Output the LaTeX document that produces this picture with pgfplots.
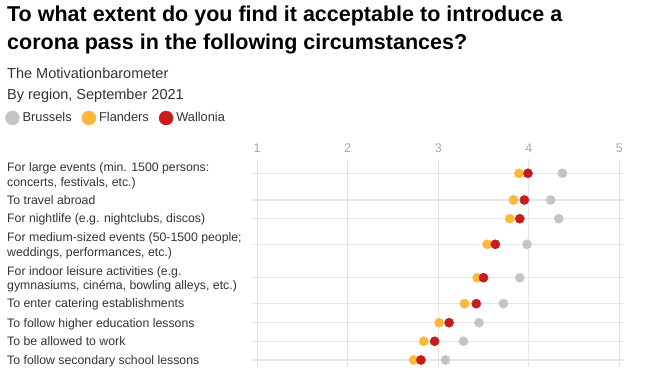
\documentclass[border=0pt]{standalone}
\usepackage{pgfplots}
\pgfplotsset{compat=1.18}
\usepackage{fontspec}
\setmainfont{Liberation Sans}
\definecolor{cB}{HTML}{C4C4C4}
\definecolor{cF}{HTML}{FDB83A}
\definecolor{cW}{HTML}{C81B1E}
\definecolor{txt}{HTML}{333333}
\definecolor{tick}{HTML}{A6A6A6}
\definecolor{gridc}{HTML}{E6E6E6}
\pgfplotstableread{
y      B     F     W
-173.3 4.37 3.89 3.99
-200.0 4.24 3.83 3.95
-218.7 4.33 3.79 3.90
-244.3 3.98 3.54 3.63
-277.7 3.90 3.43 3.50
-303.7 3.72 3.29 3.42
-322.7 3.45 3.01 3.12
-341.3 3.28 2.84 2.96
-360.0 3.08 2.73 2.81
}\data
\begin{document}
\begin{tikzpicture}[x=1pt,y=1pt]
\useasboundingbox (0,0) rectangle (649,-385);
\node[anchor=base west,inner sep=0,font=\fontsize{21.5}{25}\selectfont\bfseries,text=black] at (7,-21.7) {To what extent do you find it acceptable to introduce a};
\node[anchor=base west,inner sep=0,font=\fontsize{21.5}{25}\selectfont\bfseries,text=black] at (7,-49.3) {corona pass in the following circumstances?};
\node[anchor=base west,inner sep=0,font=\fontsize{14.5}{17}\selectfont,text=txt] at (7,-78.7) {The Motivationbarometer};
\node[anchor=base west,inner sep=0,font=\fontsize{14.5}{17}\selectfont,text=txt] at (7,-100) {By region, September 2021};
\begin{axis}[
  at={(252pt,-367pt)}, anchor=south west,
  scale only axis, width=372pt, height=208pt,
  xmin=0.945, xmax=5.05, ymin=-367, ymax=-159,
  axis lines=none,
  clip=false,
  xtick=\empty, ytick=\empty,
  legend style={at={(axis description cs:-0.672,1.197)}, anchor=west, draw=none, fill=none,
    legend columns=-1, font=\fontsize{12.8}{15}\selectfont, text=txt,
    /tikz/every odd column/.append style={column sep=1pt},
    /tikz/every even column/.append style={column sep=8pt}},
  legend image code/.code={\fill[#1] (3pt,0) circle (7pt);},
]
\pgfplotsinvokeforeach{1,2,3,4,5}{
  \draw[gridc, line width=0.8pt] (axis cs:#1,-159) -- (axis cs:#1,-367);
  \node[text=tick, font=\fontsize{12.5}{15}\selectfont, anchor=base] at (axis cs:#1,-152.5) {#1};
}
\pgfplotsinvokeforeach{-173.3,-200,-218.7,-244.3,-277.7,-303.7,-322.7,-341.3,-360}{
  \draw[gridc, line width=1.2pt] (axis cs:0.945,#1) -- (axis cs:5.05,#1);
}
\addplot[only marks, mark=*, mark size=4.6pt, cB, mark options={draw=none,fill=cB}] table[x=B,y=y]{\data};
\addlegendentry{Brussels}
\addplot[only marks, mark=*, mark size=4.6pt, cF, mark options={draw=none,fill=cF}] table[x=F,y=y]{\data};
\addlegendentry{Flanders}
\addplot[only marks, mark=*, mark size=4.6pt, cW, mark options={draw=none,fill=cW}] table[x=W,y=y]{\data};
\addlegendentry{Wallonia}
\end{axis}
\begin{scope}[every node/.style={anchor=base west, inner sep=0, align=left, text=txt, font=\fontsize{12.3}{14.5}\selectfont}]
\node at (7,-186.2) {For large events (min. 1500 persons:\\concerts, festivals, etc.)};
\node at (7,-204.3) {To travel abroad};
\node at (7,-223) {For nightlife (e.g. nightclubs, discos)};
\node at (7,-256.4) {For medium-sized events (50-1500 people;\\weddings, performances, etc.)};
\node at (7,-289.8) {For indoor leisure activities (e.g.\\gymnasiums, cinéma, bowling alleys, etc.)};
\node at (7,-308) {To enter catering establishments};
\node at (7,-327) {To follow higher education lessons};
\node at (7,-345.6) {To be allowed to work};
\node at (7,-364.3) {To follow secondary school lessons};
\end{scope}
\end{tikzpicture}
\end{document}
